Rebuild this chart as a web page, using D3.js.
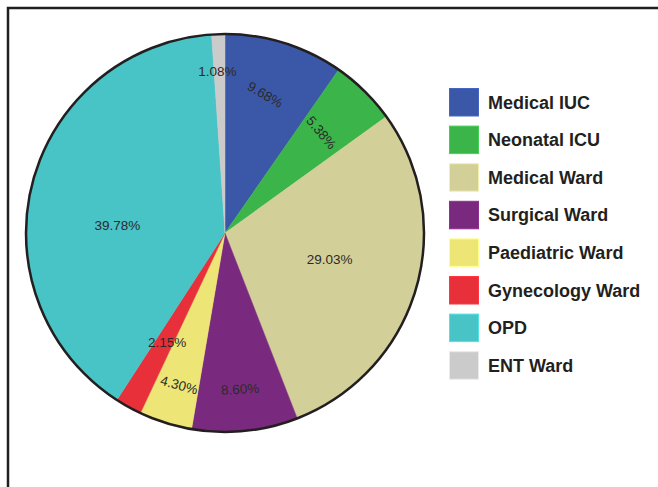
<!DOCTYPE html>
<html>
<head>
<meta charset="utf-8">
<script src="https://cdn.jsdelivr.net/npm/d3@7/dist/d3.min.js"></script>
<style>
  html, body { margin: 0; padding: 0; background: #fff; }
  svg { display: block; }
</style>
</head>
<body>
<svg id="chart" width="658" height="487"></svg>
<script>
// ---- data ----
const categories = ["Medical IUC", "Neonatal ICU", "Medical Ward", "Surgical Ward",
                    "Paediatric Ward", "Gynecology Ward", "OPD", "ENT Ward"];
const counts = [9, 5, 27, 8, 4, 2, 37, 1];
const percentLabels = ["9.68%", "5.38%", "29.03%", "8.60%", "4.30%", "2.15%", "39.78%", "1.08%"];
const colors = ["#3b58a8", "#3bb54a", "#d3cf98", "#7a2a7e", "#ede677", "#e8303a", "#48c3c6", "#cbcbcb"];

// label layout (radius, angle in degrees clockwise from top, text rotation)
const labelRadius = [144, 139, 108, 157, 159, 124, 108, 162];
const labelAngle  = [16.2, 43.8, 104.4, 174.5, 196.8, 207.8, 274.2, 357.3];
const labelRotate = [30, 50, 0, -3, 15, 0, 0, 0];

const svg = d3.select("#chart");
const W = 658, H = 487;

// frame
svg.append("path")
  .attr("d", `M8,${H} L8,8 L${W},8`)
  .attr("fill", "none")
  .attr("stroke", "#231f20")
  .attr("stroke-width", 2.5);

const cx = 225, cy = 233, R = 199;
const g = svg.append("g").attr("transform", `translate(${cx},${cy})`);

const pie = d3.pie().sort(null).value(d => d);
const arcs = pie(counts);
const arc = d3.arc().innerRadius(0).outerRadius(R);

g.selectAll("path.slice")
  .data(arcs)
  .join("path")
  .attr("class", "slice")
  .attr("d", arc)
  .attr("fill", (d, i) => colors[i])
  .attr("stroke", (d, i) => colors[i])
  .attr("stroke-width", 0.5);

g.append("circle")
  .attr("r", R)
  .attr("fill", "none")
  .attr("stroke", "#231f20")
  .attr("stroke-width", 2.5);

// percentage labels
g.selectAll("text.pct")
  .data(arcs)
  .join("text")
  .attr("class", "pct")
  .attr("transform", (d, i) => {
    const a = labelAngle[i] * Math.PI / 180;
    const x = labelRadius[i] * Math.sin(a);
    const y = -labelRadius[i] * Math.cos(a);
    return `translate(${x},${y}) rotate(${labelRotate[i]})`;
  })
  .attr("text-anchor", "middle")
  .attr("dominant-baseline", "central")
  .attr("font-family", "Liberation Sans, Arial, sans-serif")
  .attr("font-size", 13.5)
  .attr("fill", "#2a2a2a")
  .text((d, i) => percentLabels[i]);

// legend
const legendY = d3.scaleBand().domain(categories).range([88, 88 + 37.6 * categories.length]);
const legend = svg.append("g");
const rows = legend.selectAll("g.row")
  .data(categories)
  .join("g")
  .attr("class", "row")
  .attr("transform", d => `translate(449,${legendY(d)})`);

rows.append("rect")
  .attr("x", 0.5).attr("y", 0.5)
  .attr("width", 29).attr("height", 27.5)
  .attr("fill", (d, i) => colors[i])
  .attr("stroke", (d, i) => d3.color(colors[i]).brighter(0.4))
  .attr("stroke-width", 1);

rows.append("text")
  .attr("x", 39)
  .attr("y", 20.5)
  .attr("font-family", "Liberation Sans, Arial, sans-serif")
  .attr("font-weight", "bold")
  .attr("font-size", 18)
  .attr("fill", "#231f20")
  .text(d => d);
</script>
</body>
</html>
